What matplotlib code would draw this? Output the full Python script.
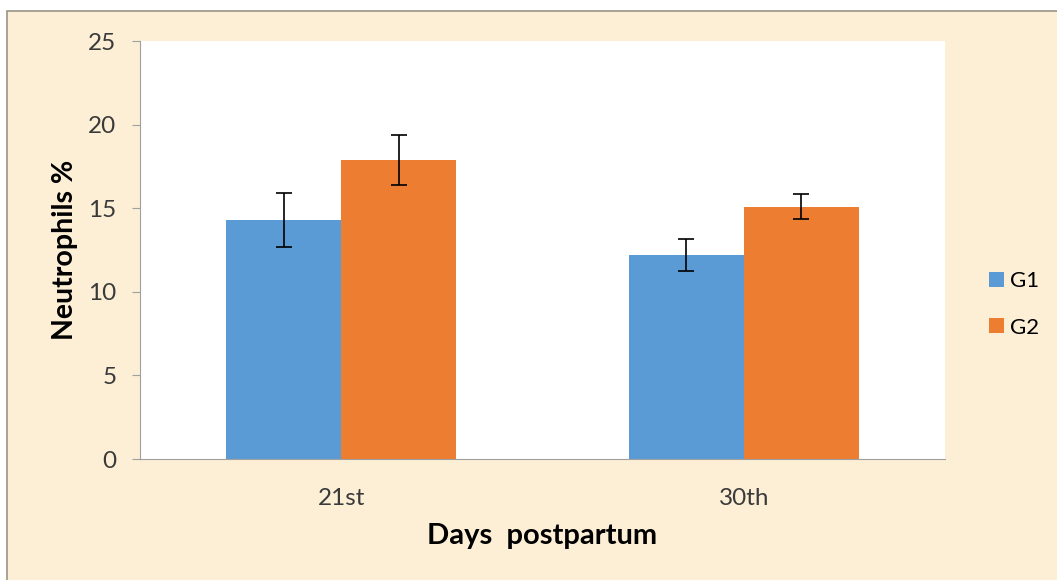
import matplotlib.pyplot as plt
import matplotlib.patches as mpatches
import numpy as np

# data
days = ['21st', '30th']
groups = ['G1', 'G2']
g1_vals = [14.3, 12.2]
g1_err = [1.6, 0.95]
g2_vals = [17.9, 15.1]
g2_err = [1.5, 0.75]
y_ticks = [0, 5, 10, 15, 20, 25]

plt.rcParams['font.family'] = ['Lato', 'DejaVu Sans']

fig = plt.figure(figsize=(10.57, 5.8), dpi=100)
fig.patch.set_facecolor('white')

# parchment frame behind the chart
frame = mpatches.Rectangle((7 / 1057, -0.05), 1.1, (580 - 11) / 580 + 0.05,
                           transform=fig.transFigure, facecolor='#FCEFD6',
                           edgecolor='#9a9488', linewidth=1.2, zorder=-5)
fig.patches.append(frame)

ax = fig.add_axes([140 / 1057, 121 / 580, 805 / 1057, 418 / 580])
ax.set_zorder(1)
ax.set_facecolor('white')

x = np.arange(len(days))
w = 0.286
ax.bar(x - w / 2, g1_vals, w, color='#5B9BD5', label=groups[0], zorder=2)
ax.bar(x + w / 2, g2_vals, w, color='#ED7D31', label=groups[1], zorder=2)
ax.errorbar(x - w / 2, g1_vals, yerr=g1_err, fmt='none', ecolor='black',
            elinewidth=1.2, capsize=6, capthick=1.2, zorder=3)
ax.errorbar(x + w / 2, g2_vals, yerr=g2_err, fmt='none', ecolor='black',
            elinewidth=1.2, capsize=6, capthick=1.2, zorder=3)

ax.set_xlim(-0.5, 1.5)
ax.set_ylim(0, 25)
ax.set_yticks(y_ticks)
ax.set_xticks(x)
ax.set_xticklabels(days)

for s in ['top', 'right']:
    ax.spines[s].set_visible(False)
ax.spines['left'].set_color('#a0a0a0')
ax.spines['bottom'].set_color('#a0a0a0')
ax.tick_params(axis='y', length=6, color='#a0a0a0', labelsize=17.5,
               labelcolor='#3a3a3a', pad=11)
ax.tick_params(axis='x', length=0, labelsize=17.5, labelcolor='#3a3a3a', pad=21)

ax.set_ylabel('Neutrophils %', fontsize=20.5, fontweight='bold', labelpad=7)
ax.set_xlabel('Days  postpartum', fontsize=21, fontweight='bold', labelpad=10)

ax.legend(loc='center left', bbox_to_anchor=(1.03, 0.37), frameon=False,
          fontsize=16, handlelength=0.65, handleheight=0.65, labelspacing=1.2,
          handletextpad=0.3)

fig.savefig('out.png', dpi=100)
